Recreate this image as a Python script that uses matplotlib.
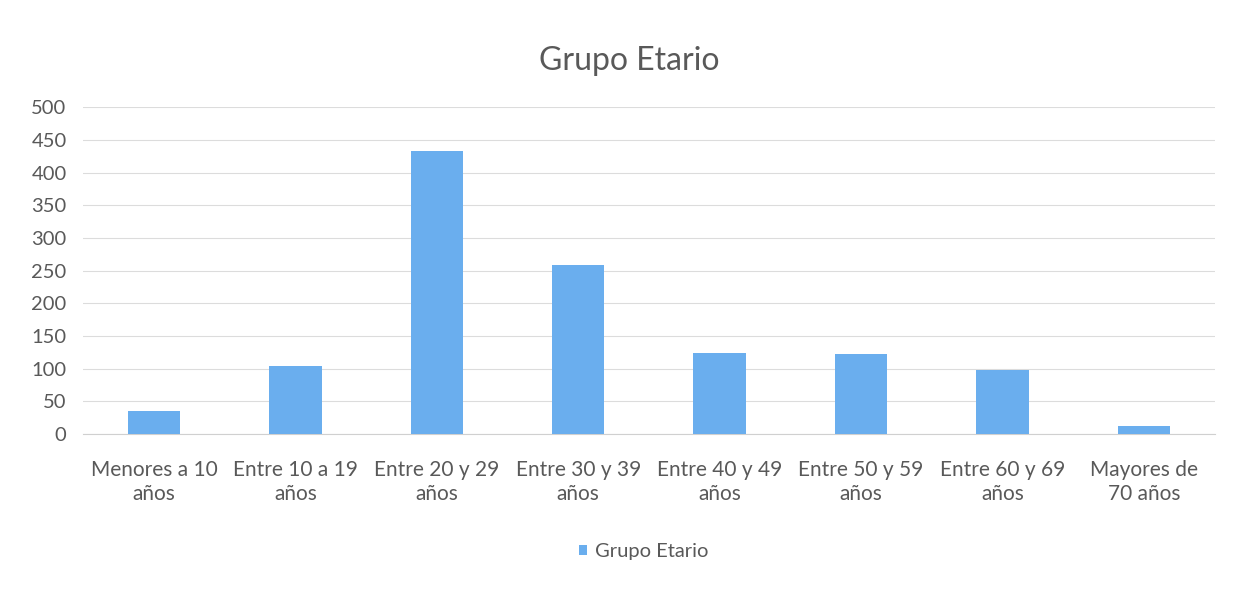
import matplotlib.pyplot as plt
import numpy as np

plt.rcParams['font.family'] = ['Lato', 'DejaVu Sans']

CATEGORIES = ['Menores a 10\naños', 'Entre 10 a 19\naños', 'Entre 20 y 29\naños',
              'Entre 30 y 39\naños', 'Entre 40 y 49\naños', 'Entre 50 y 59\naños',
              'Entre 60 y 69\naños', 'Mayores de\n70 años']
VALUES = [35, 104, 433, 259, 124, 123, 98, 13]
YTICKS = [0, 50, 100, 150, 200, 250, 300, 350, 400, 450, 500]
SERIES = 'Grupo Etario'
BAR_COLOR = '#6aaeee'
TEXT_COLOR = '#595959'

fig = plt.figure(figsize=(12.42, 5.89), dpi=100)
ax = fig.add_axes([0.067, 0.263, 0.911, 0.555])

x = np.arange(len(CATEGORIES))
ax.bar(x, VALUES, width=0.37, color=BAR_COLOR, label=SERIES, zorder=3)

ax.set_xlim(-0.5, len(CATEGORIES) - 0.5)
ax.set_ylim(0, 500)
ax.set_yticks(YTICKS)
ax.set_xticks(x)
ax.set_xticklabels(CATEGORIES, fontsize=15, color=TEXT_COLOR, linespacing=1.25)
ax.tick_params(axis='y', labelsize=14.5, labelcolor=TEXT_COLOR, length=0, pad=12)
ax.tick_params(axis='x', length=0, pad=19)

ax.grid(axis='y', color='#dcdcdc', linewidth=0.8, zorder=0)
for s in ['top', 'right', 'left']:
    ax.spines[s].set_visible(False)
ax.spines['bottom'].set_color('#d0d0d0')

fig.text(0.507, 0.897, 'Grupo Etario', ha='center', va='center',
         fontsize=23, color=TEXT_COLOR)

fig.legend(loc='center', bbox_to_anchor=(0.518, 0.063), frameon=False,
           fontsize=14.5, labelcolor=TEXT_COLOR, handlelength=0.4, handleheight=0.4,
           handletextpad=0.4)

fig.savefig('out.png', dpi=100, facecolor='white')
